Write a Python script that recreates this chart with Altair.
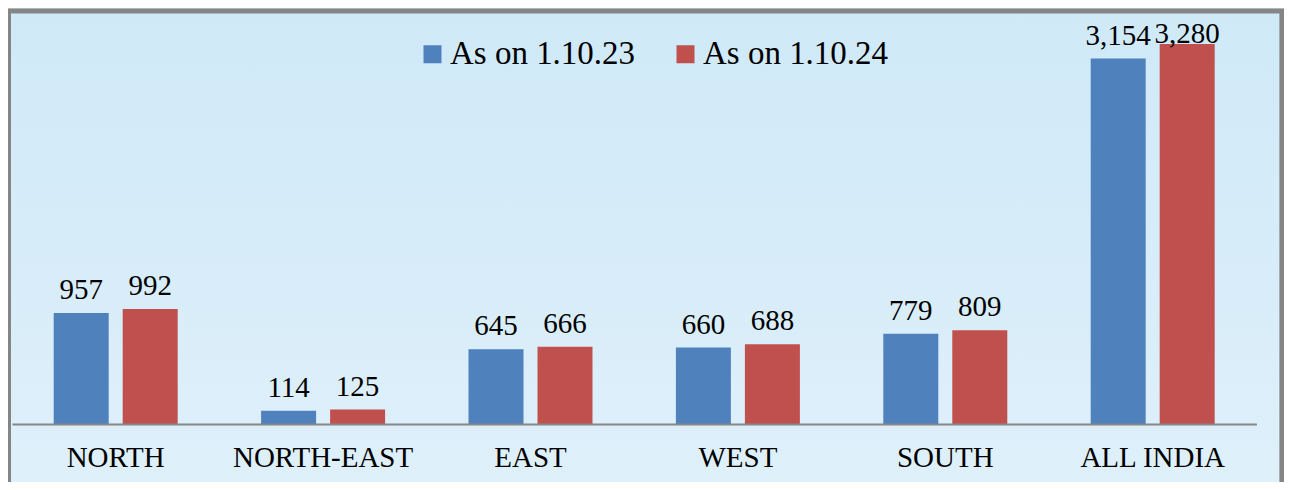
import altair as alt
import pandas as pd

regions = ["NORTH", "NORTH-EAST", "EAST", "WEST", "SOUTH", "ALL INDIA"]
series = ["As on 1.10.23", "As on 1.10.24"]
values_2023 = [957, 114, 645, 660, 779, 3154]
values_2024 = [992, 125, 666, 688, 809, 3280]

rows = []
for r, a, b in zip(regions, values_2023, values_2024):
    rows.append({"region": r, "series": series[0], "value": a})
    rows.append({"region": r, "series": series[1], "value": b})
df = pd.DataFrame(rows)

W = 1244.4
H = 405.5
YMAX = 3500
FONT = "Liberation Serif"

x_enc = alt.X("region:N", sort=regions,
              scale=alt.Scale(paddingInner=0, paddingOuter=0),
              axis=alt.Axis(title=None, labelAngle=0, labelFont=FONT, labelFontSize=29,
                            labelColor="#000000", ticks=False, domainColor="#868686",
                            domainWidth=2, labelPadding=43, labelBaseline="alphabetic",
                            labelLimit=400, labelOverlap=False, zindex=2))
xo_enc = alt.XOffset("series:N", sort=series,
                     scale=alt.Scale(paddingInner=0.2029, paddingOuter=0.6045))
y_scale = alt.Scale(domain=[0, YMAX])

bg = alt.Chart(pd.DataFrame({"a": [0]})).mark_rect(
    fill=alt.LinearGradient(gradient="linear",
                            stops=[alt.GradientStop(color="#cfe9f8", offset=0),
                                   alt.GradientStop(color="#dff0fa", offset=1)],
                            x1=0, x2=0, y1=0, y2=1)
).encode(x=alt.value(-12), x2=alt.value(1290), y=alt.value(-20), y2=alt.value(480))

frame = alt.Chart(pd.DataFrame({"a": [0]})).mark_rect(
    fill=None, stroke="#858585", strokeWidth=5
).encode(x=alt.value(-3.5), x2=alt.value(1269.9), y=alt.value(-7.5), y2=alt.value(490))

bars = alt.Chart(df).mark_bar(stroke=None).encode(
    x=x_enc, xOffset=xo_enc,
    y=alt.Y("value:Q", scale=y_scale, axis=None),
    color=alt.Color("series:N", sort=series,
                    scale=alt.Scale(domain=series, range=["#4f81bd", "#c0504d"]),
                    legend=alt.Legend(title=None, orient="none", direction="horizontal",
                                      legendX=404, legendY=19, symbolType="square",
                                      symbolSize=324, symbolStrokeWidth=0, labelFont=FONT,
                                      labelFontSize=33, labelColor="#000000", labelOffset=1,
                                      labelLimit=400, columnPadding=33, padding=0))
)

labels = alt.Chart(df).transform_calculate(
    ly="min(datum.value, 3167)"
).mark_text(font=FONT, fontSize=29, baseline="alphabetic", dy=-14, color="#000000").encode(
    x=x_enc, xOffset=xo_enc,
    y=alt.Y("ly:Q", scale=y_scale, axis=None),
    text=alt.Text("value:Q", format=",")
)

chart = alt.layer(bg, frame, bars, labels).properties(
    width=W, height=H,
    padding={"left": 4, "top": 10.5, "right": 28, "bottom": 58},
    autosize=alt.AutoSizeParams(type="none"),
    background="#cfe9f8"
).configure_view(stroke=None).configure_axis(grid=False)

chart.save("out.html", embed_options={"renderer": "svg", "actions": False})
